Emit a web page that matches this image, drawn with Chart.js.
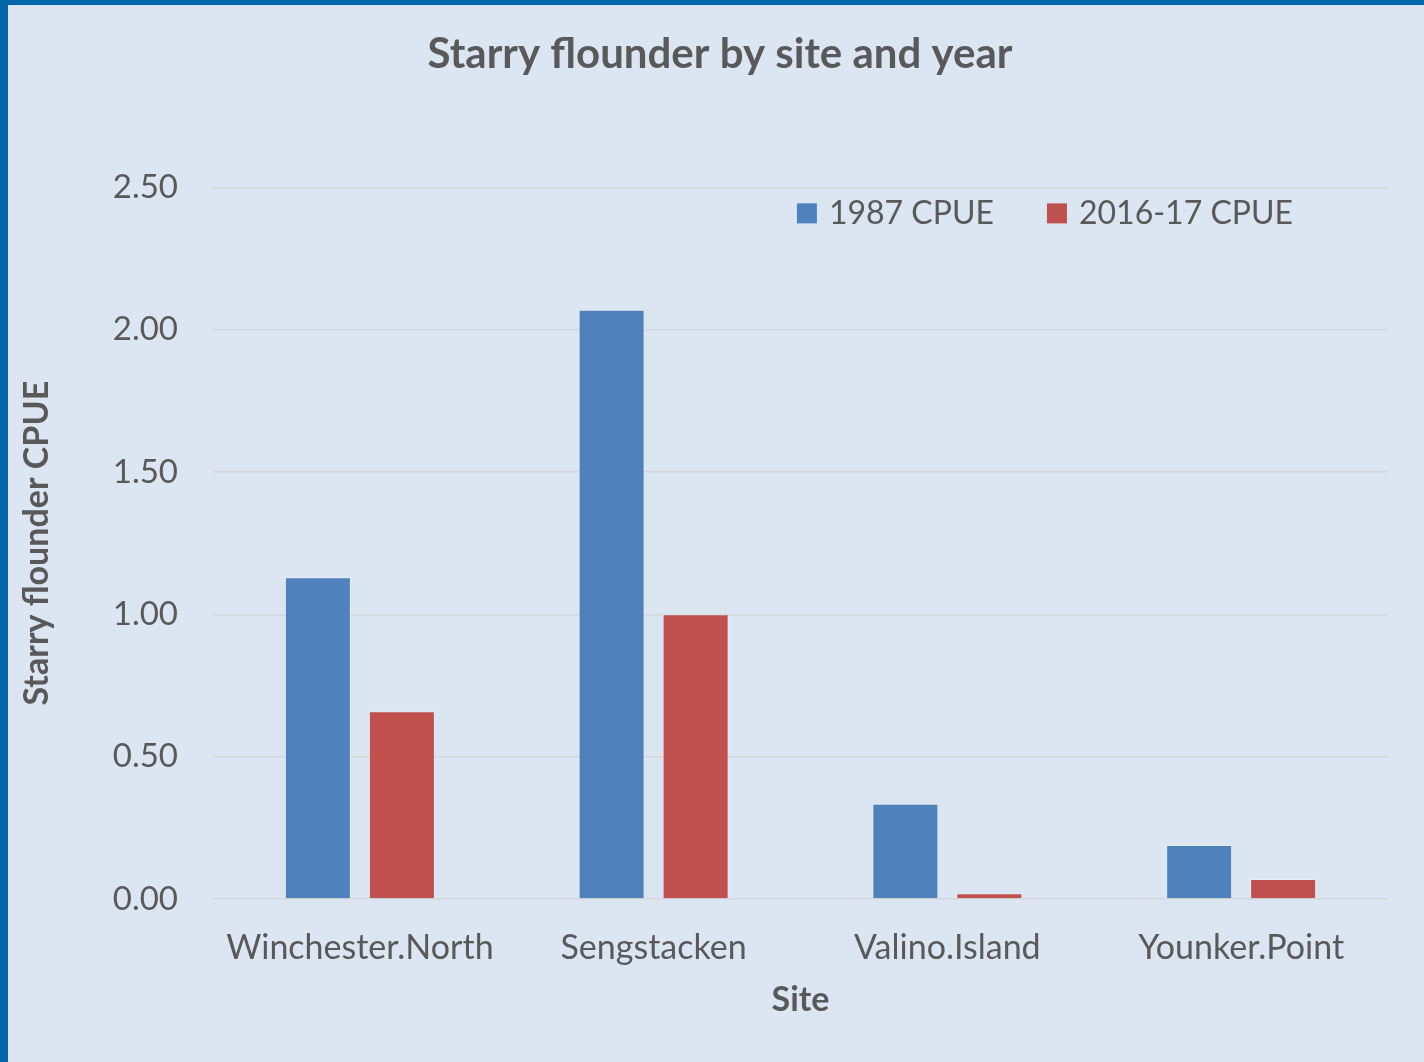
<!DOCTYPE html>
<html>
<head>
<meta charset="utf-8">
<script src="https://cdn.jsdelivr.net/npm/chart.js@4"></script>
<style>
  html, body { margin: 0; padding: 0; background: #0066a9; }
  #wrap { position: absolute; left: 8px; top: 5px; width: 1416px; height: 1057px; background: #dce6f2; }
</style>
</head>
<body>
<div id="wrap"><canvas id="flounderChart"></canvas></div>
<script>
const sites = ["Winchester.North", "Sengstacken", "Valino.Island", "Younker.Point"];
const cpue1987 = [1.13, 2.07, 0.335, 0.19];
const cpue2016 = [0.66, 1.0, 0.02, 0.07];

const textColor = "#595959";
const fontFamily = "Lato, 'Open Sans', sans-serif";

// legend drawn inside the plot, top right, like the Excel one
const insideLegend = {
    id: "insideLegend",
    afterDraw(chart) {
        const c = chart.ctx;
        const area = chart.chartArea;
        const box = 20, gapText = 12, gapItem = 53;
        c.save();
        c.font = "32px " + fontFamily;
        c.textBaseline = "middle";
        const items = chart.data.datasets.map(ds => ({
            text: ds.label,
            color: ds.backgroundColor,
            w: box + gapText + c.measureText(ds.label).width
        }));
        const total = items.reduce((s, it) => s + it.w, 0) + gapItem * (items.length - 1);
        let x = area.right - 95 - total;
        const y = area.top + 26;
        items.forEach(it => {
            c.fillStyle = it.color;
            c.fillRect(x, y - box / 2, box, box);
            c.fillStyle = textColor;
            c.fillText(it.text, x + box + gapText, y);
            x += it.w + gapItem;
        });
        c.restore();
    }
};

const ctx = document.getElementById("flounderChart").getContext("2d");

const chart = new Chart(ctx, {
    type: "bar",
    data: {
        labels: sites,
        datasets: [{
            label: "1987 CPUE",
            data: cpue1987,
            backgroundColor: "#4f81bd",
            borderColor: "rgba(255,255,255,0.3)",
            borderWidth: 1,
            categoryPercentage: 0.572,
            barPercentage: 0.786
        }, {
            label: "2016-17 CPUE",
            data: cpue2016,
            backgroundColor: "#c0504d",
            borderColor: "rgba(255,255,255,0.3)",
            borderWidth: 1,
            categoryPercentage: 0.572,
            barPercentage: 0.786
        }]
    },
    options: {
        responsive: true,
        maintainAspectRatio: false,
        animation: false,
        layout: { padding: { left: 8, right: 0, top: 0, bottom: 0 } },
        plugins: {
            title: {
                display: true,
                text: "Starry flounder by site and year",
                color: textColor,
                font: { family: fontFamily, size: 42, weight: "bold" },
                padding: { top: 24, bottom: 108 }
            },
            legend: { display: false },
            tooltip: { enabled: false }
        },
        scales: {
            x: {
                grid: { display: false },
                border: { display: false },
                ticks: {
                    color: textColor,
                    padding: 21,
                    font: { family: fontFamily, size: 34 }
                },
                title: {
                    display: true,
                    text: "Site",
                    color: textColor,
                    font: { family: fontFamily, size: 34, weight: "bold" },
                    padding: { top: 0, bottom: 42 }
                },
                afterFit(scale) { scale.height = 163; }
            },
            y: {
                min: 0,
                max: 2.5,
                grid: { color: "#d3d6da", lineWidth: 1.5, drawTicks: false },
                border: { display: false },
                ticks: {
                    stepSize: 0.5,
                    color: textColor,
                    padding: 35,
                    font: { family: fontFamily, size: 33 },
                    callback: v => v.toFixed(2)
                },
                title: {
                    display: true,
                    text: "Starry flounder CPUE",
                    color: textColor,
                    font: { family: fontFamily, size: 34, weight: "bold" },
                    padding: { top: 1, bottom: 0 }
                },
                afterFit(scale) { scale.width = 197; }
            },
            // empty right-hand strip so the plot ends short of the edge
            yRight: {
                position: "right",
                grid: { display: false },
                border: { display: false },
                ticks: { display: false },
                afterFit(scale) { scale.width = 36; }
            }
        }
    },
    plugins: [insideLegend]
});
</script>
</body>
</html>
